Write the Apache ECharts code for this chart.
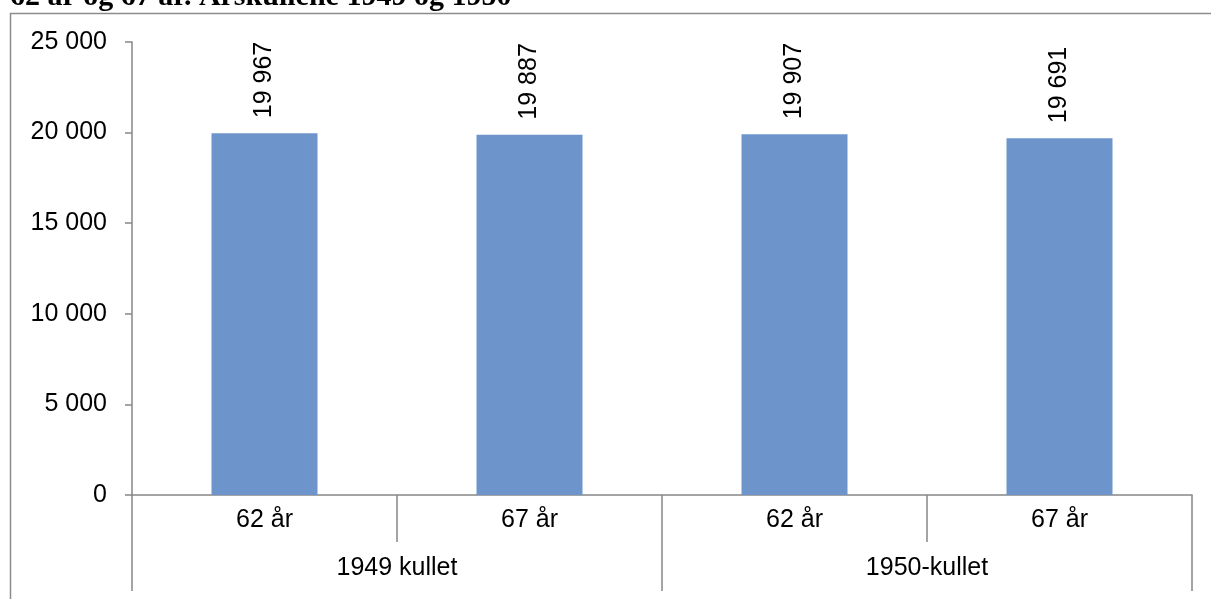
<!DOCTYPE html>
<html>
<head>
<meta charset="utf-8">
<script src="https://cdn.jsdelivr.net/npm/echarts@6/dist/echarts.min.js"></script>
<style>
html,body{margin:0;padding:0;background:#fff;}
#chart{width:1211px;height:599px;}
</style>
</head>
<body>
<div id="chart"></div>
<script>
var title = "62 år og 67 år. Årskullene 1949 og 1950";
var ageCategories = ["62 år", "67 år", "62 år", "67 år"];
var cohortGroups = ["1949 kullet", "1950-kullet"];
var values = [19967, 19887, 19907, 19691];
var yTicks = [0, 5000, 10000, 15000, 20000, 25000];

function fmt(v) {
  return String(v).replace(/\B(?=(\d{3})+(?!\d))/g, " ");
}

var chart = echarts.init(document.getElementById('chart'), null, {renderer: 'canvas'});
var font = "'Liberation Sans', Arial, sans-serif";
var axisGray = '#868686';

chart.setOption({
  animation: false,
  backgroundColor: '#ffffff',
  graphic: [
    {
      type: 'rect',
      shape: {x: 10.5, y: 13.5, width: 1400, height: 800},
      style: {fill: 'none', stroke: '#8c8c8c', lineWidth: 1.5},
      silent: true
    },
    {
      type: 'text',
      left: 10,
      top: -18,
      style: {
        text: title,
        fontFamily: "'Liberation Serif', 'Times New Roman', serif",
        fontWeight: 'bold',
        fontSize: 30,
        fill: '#000'
      }
    }
  ],
  grid: {left: 132, right: 19, top: 42, bottom: 104, containLabel: false},
  yAxis: {
    type: 'value',
    min: yTicks[0],
    max: yTicks[yTicks.length - 1],
    interval: yTicks[1] - yTicks[0],
    axisLine: {show: true, lineStyle: {color: axisGray, width: 1.5}},
    axisTick: {show: true, length: 7, lineStyle: {color: axisGray, width: 1.5}},
    splitLine: {show: false},
    axisLabel: {
      margin: 25,
      color: '#000',
      fontFamily: font,
      fontSize: 25,
      formatter: function (v) { return fmt(v); }
    }
  },
  xAxis: [
    {
      type: 'category',
      data: ageCategories,
      position: 'bottom',
      axisLine: {show: true, lineStyle: {color: axisGray, width: 1.5}},
      axisTick: {show: true, length: 47, interval: 0, lineStyle: {color: axisGray, width: 1.5}},
      axisLabel: {
        interval: 0, margin: 13, color: '#000', fontFamily: font, fontSize: 25
      }
    },
    {
      type: 'category',
      data: cohortGroups,
      position: 'bottom',
      offset: 0,
      axisLine: {show: false},
      axisTick: {show: true, length: 96, interval: 0, lineStyle: {color: axisGray, width: 1.5}},
      axisLabel: {
        interval: 0, margin: 61, color: '#000', fontFamily: font, fontSize: 25
      }
    }
  ],
  series: [{
    type: 'bar',
    xAxisIndex: 0,
    data: values,
    barWidth: 106,
    itemStyle: {color: '#6d95cb'},
    label: {
      show: true,
      position: 'top',
      distance: 15,
      rotate: 90,
      align: 'left',
      verticalAlign: 'middle',
      color: '#000',
      fontFamily: font,
      fontSize: 25,
      formatter: function (p) { return fmt(p.value); }
    }
  }]
});
</script>
</body>
</html>
